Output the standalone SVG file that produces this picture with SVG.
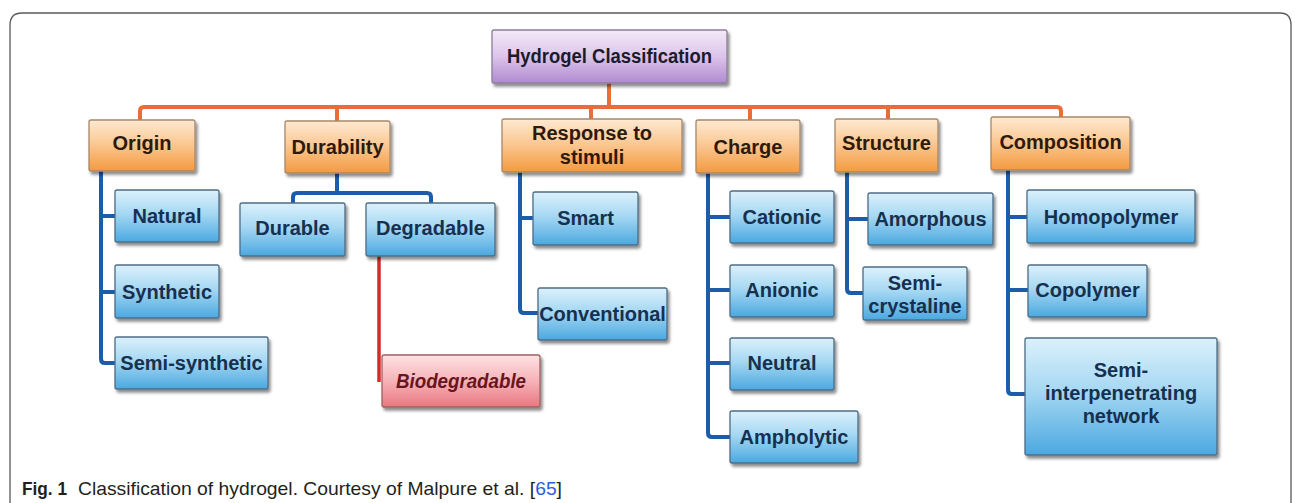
<svg xmlns="http://www.w3.org/2000/svg" width="1295" height="503" viewBox="0 0 1295 503">
<defs>
<linearGradient id="gOr" x1="0" y1="0" x2="0" y2="1"><stop offset="0" stop-color="#fde9d2"/><stop offset="0.45" stop-color="#fbc995"/><stop offset="1" stop-color="#f39a40"/></linearGradient>
<linearGradient id="gBl" x1="0" y1="0" x2="0" y2="1"><stop offset="0" stop-color="#dcf1fb"/><stop offset="0.45" stop-color="#a6d8f3"/><stop offset="1" stop-color="#4ba8e0"/></linearGradient>
<linearGradient id="gPu" x1="0" y1="0" x2="0" y2="1"><stop offset="0" stop-color="#f4e9f8"/><stop offset="0.5" stop-color="#dcc4ea"/><stop offset="1" stop-color="#b08ad0"/></linearGradient>
<linearGradient id="gPk" x1="0" y1="0" x2="0" y2="1"><stop offset="0" stop-color="#fde2e4"/><stop offset="0.5" stop-color="#f6b3b8"/><stop offset="1" stop-color="#e87780"/></linearGradient>
<filter id="sh" x="-10%" y="-10%" width="125%" height="135%"><feDropShadow dx="2" dy="3" stdDeviation="1.5" flood-color="#000" flood-opacity="0.45"/></filter>
</defs>
<style>
.box{stroke-width:1.3;filter:url(#sh)}
.or{fill:url(#gOr);stroke:#a8886a}
.bl{fill:url(#gBl);stroke:#4d6c86}
.pu{fill:url(#gPu);stroke:#8c7d9c}
.pk{fill:url(#gPk);stroke:#a06060}
text{font-family:"Liberation Sans",Arial,sans-serif;text-anchor:middle}
.t{font-size:20px;font-weight:bold}
.to{fill:#2e1a0c}
.tb{fill:#16304f}
.th{font-size:19.5px;font-weight:bold;fill:#1b1b2e}
.ti{font-size:19.5px;font-weight:bold;font-style:italic;fill:#6a1420}
.co{fill:none;stroke:#e96d3a;stroke-width:4;stroke-linejoin:round}
.cb{fill:none;stroke:#1d5ca8;stroke-width:4;stroke-linejoin:round}
.cr{fill:none;stroke:#d42a2a;stroke-width:3.5}
.cap{font-size:18.5px;text-anchor:start;fill:#231f20}
</style>
<path d="M10 503 V25 Q10 13 22 13 H1280 Q1291 13 1291 25 V503" fill="none" stroke="#5a5a5a" stroke-width="1.3"/>
<g id="connectors">
<path class="co" d="M609 83 V107"/>
<path class="co" d="M140 121 V111 Q140 107 144 107 H1057 Q1061 107 1061 111 V118"/>
<path class="co" d="M337 107 V121 M591 107 V119 M750 107 V120 M888 107 V119"/>
<path class="cb" d="M101 171 V359 Q101 363 105 363 H115 M101 216 H115 M101 292 H115"/>
<path class="cb" d="M337 173 V193 M293 203 V197 Q293 193 297 193 H427 Q431 193 431 197 V203"/>
<path class="cb" d="M520 172 V309 Q520 313 524 313 H538 M520 218 H533"/>
<path class="cb" d="M708 173 V433 Q708 437 712 437 H730 M708 217 H730 M708 290 H730 M708 363 H730"/>
<path class="cb" d="M847 172 V289 Q847 293 851 293 H863 M847 219 H868"/>
<path class="cb" d="M1008 170 V390 Q1008 394 1012 394 H1025 M1008 217 H1027 M1008 290 H1028"/>
<path class="cr" d="M379 256 V382"/>
</g>
<g id="n-root"><rect class="box pu" x="492" y="30" width="235" height="53" rx="2"/><text class="th" x="609.5" y="63" textLength="205" lengthAdjust="spacingAndGlyphs">Hydrogel Classification</text></g>
<g id="n-origin"><rect class="box or" x="89" y="120" width="106" height="51" rx="2"/><text class="t to" x="142" y="150">Origin</text></g>
<g id="n-durability"><rect class="box or" x="285" y="121" width="105" height="52" rx="2"/><text class="t to" x="337.5" y="154">Durability</text></g>
<g id="n-response"><rect class="box or" x="502" y="119" width="180" height="53" rx="2"/><text class="t to" x="592" y="140">Response to</text><text class="t to" x="592" y="164">stimuli</text></g>
<g id="n-charge"><rect class="box or" x="696" y="120" width="104" height="53" rx="2"/><text class="t to" x="748" y="154">Charge</text></g>
<g id="n-structure"><rect class="box or" x="835" y="119" width="103" height="53" rx="2"/><text class="t to" x="886.5" y="150">Structure</text></g>
<g id="n-composition"><rect class="box or" x="991" y="117" width="139" height="53" rx="2"/><text class="t to" x="1060.5" y="149">Composition</text></g>
<g id="n-natural"><rect class="box bl" x="115" y="190" width="104" height="52" rx="2"/><text class="t tb" x="167" y="223">Natural</text></g>
<g id="n-synthetic"><rect class="box bl" x="115" y="265" width="104" height="53" rx="2"/><text class="t tb" x="167" y="299">Synthetic</text></g>
<g id="n-semisynthetic"><rect class="box bl" x="115" y="337" width="153" height="52" rx="2"/><text class="t tb" x="191.5" y="370">Semi-synthetic</text></g>
<g id="n-durable"><rect class="box bl" x="240" y="203" width="105" height="53" rx="2"/><text class="t tb" x="292.5" y="235">Durable</text></g>
<g id="n-degradable"><rect class="box bl" x="366" y="203" width="129" height="53" rx="2"/><text class="t tb" x="430.5" y="235">Degradable</text></g>
<g id="n-biodegradable"><rect class="box pk" x="382" y="355" width="158" height="52" rx="2"/><text class="ti" x="461" y="388" textLength="130" lengthAdjust="spacingAndGlyphs">Biodegradable</text></g>
<g id="n-smart"><rect class="box bl" x="533" y="192" width="105" height="53" rx="2"/><text class="t tb" x="585.5" y="225">Smart</text></g>
<g id="n-conventional"><rect class="box bl" x="538" y="288" width="129" height="52" rx="2"/><text class="t tb" x="602.5" y="321">Conventional</text></g>
<g id="n-cationic"><rect class="box bl" x="730" y="191" width="104" height="52" rx="2"/><text class="t tb" x="782" y="224">Cationic</text></g>
<g id="n-anionic"><rect class="box bl" x="730" y="265" width="104" height="52" rx="2"/><text class="t tb" x="782" y="297">Anionic</text></g>
<g id="n-neutral"><rect class="box bl" x="730" y="338" width="104" height="52" rx="2"/><text class="t tb" x="782" y="370">Neutral</text></g>
<g id="n-ampholytic"><rect class="box bl" x="730" y="411" width="128" height="52" rx="2"/><text class="t tb" x="794" y="444">Ampholytic</text></g>
<g id="n-amorphous"><rect class="box bl" x="868" y="193" width="125" height="52" rx="2"/><text class="t tb" x="930.5" y="226">Amorphous</text></g>
<g id="n-semicrystaline"><rect class="box bl" x="863" y="267" width="104" height="53" rx="2"/><text class="t tb" x="915" y="290">Semi-</text><text class="t tb" x="915" y="313">crystaline</text></g>
<g id="n-homopolymer"><rect class="box bl" x="1027" y="190" width="168" height="53" rx="2"/><text class="t tb" x="1111" y="224">Homopolymer</text></g>
<g id="n-copolymer"><rect class="box bl" x="1028" y="265" width="119" height="52" rx="2"/><text class="t tb" x="1087.5" y="297">Copolymer</text></g>
<g id="n-semiipn"><rect class="box bl" x="1025" y="338" width="192" height="117" rx="2"/><text class="t tb" x="1121" y="377">Semi-</text><text class="t tb" x="1121" y="400">interpenetrating</text><text class="t tb" x="1121" y="423">network</text></g>
<g id="caption"><text class="cap" x="22" y="495" font-weight="bold" textLength="45" lengthAdjust="spacingAndGlyphs">Fig. 1</text><text class="cap" x="78" y="495" textLength="484" lengthAdjust="spacingAndGlyphs">Classification of hydrogel. Courtesy of Malpure et al. [<tspan fill="#2a5fd9">65</tspan>]</text></g>
</svg>
